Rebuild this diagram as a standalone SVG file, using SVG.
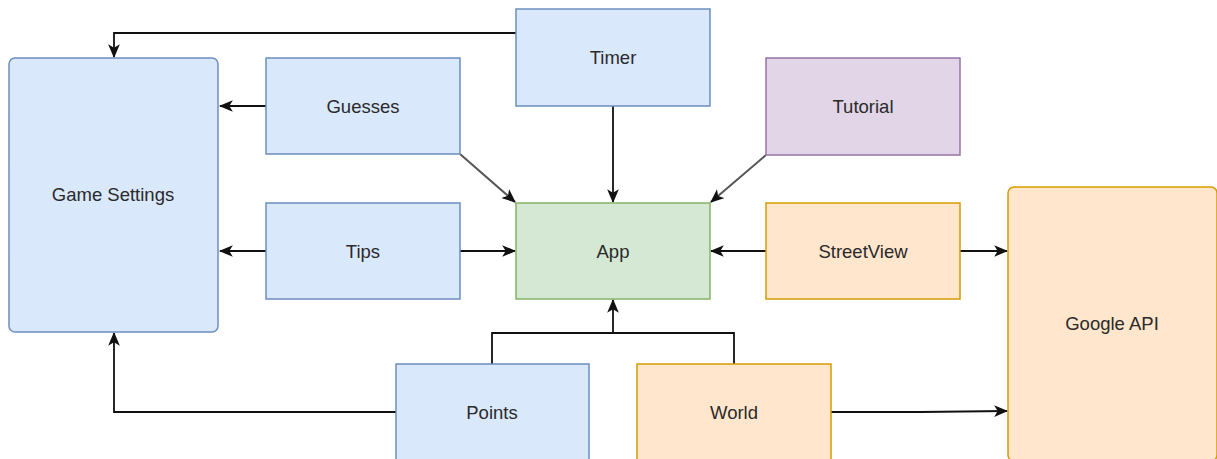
<svg xmlns="http://www.w3.org/2000/svg" width="1217" height="459" viewBox="0 0 1217 459">
  <style>
    .blue { fill: #dae8fc; stroke: #6c8ebf; stroke-width: 1.5; }
    .green { fill: #d5e8d4; stroke: #82b366; stroke-width: 1.5; }
    .orange { fill: #ffe6cc; stroke: #d79b00; stroke-width: 1.5; }
    .purple { fill: #e1d5e7; stroke: #9673a6; stroke-width: 1.5; }
    .lbl { font-family: "Liberation Sans", Arial, sans-serif; font-size: 18.5px; fill: #2a2a2a; text-anchor: middle; dominant-baseline: central; }
    .edge { fill: none; stroke: #111; stroke-width: 1.8; }
    .soft { stroke: #555; stroke-width: 2; }
  </style>
  <defs>
    <marker id="arrow" viewBox="0 0 12 10" refX="11" refY="5" markerWidth="14" markerHeight="12" markerUnits="userSpaceOnUse" orient="auto">
      <path d="M0,0 L12,5 L0,10 L3,5 Z" fill="#111"/>
    </marker>
  </defs>

  <rect width="1217" height="459" fill="#ffffff"/>

  <g id="connectors">
    <!-- Timer to Game Settings -->
    <path class="edge" d="M516,33 H114 V57" marker-end="url(#arrow)"/>
    <!-- Guesses -->
    <path class="edge" d="M266,106 H220" marker-end="url(#arrow)"/>
    <path class="edge soft" d="M460,154 L515,202" marker-end="url(#arrow)"/>
    <!-- Timer to App -->
    <path class="edge" d="M613,106 V202" marker-end="url(#arrow)"/>
    <!-- Tutorial to App -->
    <path class="edge soft" d="M766,155 L711,202" marker-end="url(#arrow)"/>
    <!-- Tips -->
    <path class="edge" d="M266,251 H220" marker-end="url(#arrow)"/>
    <path class="edge" d="M460,251 H515" marker-end="url(#arrow)"/>
    <!-- StreetView -->
    <path class="edge" d="M766,251 H711" marker-end="url(#arrow)"/>
    <path class="edge" d="M960,251 H1007" marker-end="url(#arrow)"/>
    <!-- Points and World to App -->
    <path class="edge" d="M492,364 V333 H734 V364"/>
    <path class="edge" d="M613,333 V300" marker-end="url(#arrow)"/>
    <!-- Points to Game Settings -->
    <path class="edge" d="M396,412 H114 V333" marker-end="url(#arrow)"/>
    <!-- World to Google API -->
    <path class="edge" d="M831,412 L920,412 L1007,411" marker-end="url(#arrow)"/>
  </g>

  <g id="game-settings">
    <rect class="blue" x="9" y="58" width="209" height="274" rx="6"/>
    <text class="lbl" x="113" y="194">Game Settings</text>
  </g>
  <g id="timer">
    <rect class="blue" x="516" y="9" width="194" height="97"/>
    <text class="lbl" x="613" y="57">Timer</text>
  </g>
  <g id="guesses">
    <rect class="blue" x="266" y="58" width="194" height="96"/>
    <text class="lbl" x="363" y="106">Guesses</text>
  </g>
  <g id="tutorial">
    <rect class="purple" x="766" y="58" width="194" height="97"/>
    <text class="lbl" x="863" y="106">Tutorial</text>
  </g>
  <g id="tips">
    <rect class="blue" x="266" y="203" width="194" height="96"/>
    <text class="lbl" x="363" y="251">Tips</text>
  </g>
  <g id="app">
    <rect class="green" x="516" y="203" width="194" height="96"/>
    <text class="lbl" x="613" y="251">App</text>
  </g>
  <g id="streetview">
    <rect class="orange" x="766" y="203" width="194" height="96"/>
    <text class="lbl" x="863" y="251">StreetView</text>
  </g>
  <g id="google-api">
    <rect class="orange" x="1008" y="187" width="209" height="274" rx="6"/>
    <text class="lbl" x="1112" y="323">Google API</text>
  </g>
  <g id="points">
    <rect class="blue" x="396" y="364" width="193" height="100"/>
    <text class="lbl" x="492" y="412">Points</text>
  </g>
  <g id="world">
    <rect class="orange" x="637" y="364" width="194" height="100"/>
    <text class="lbl" x="734" y="412">World</text>
  </g>
</svg>
